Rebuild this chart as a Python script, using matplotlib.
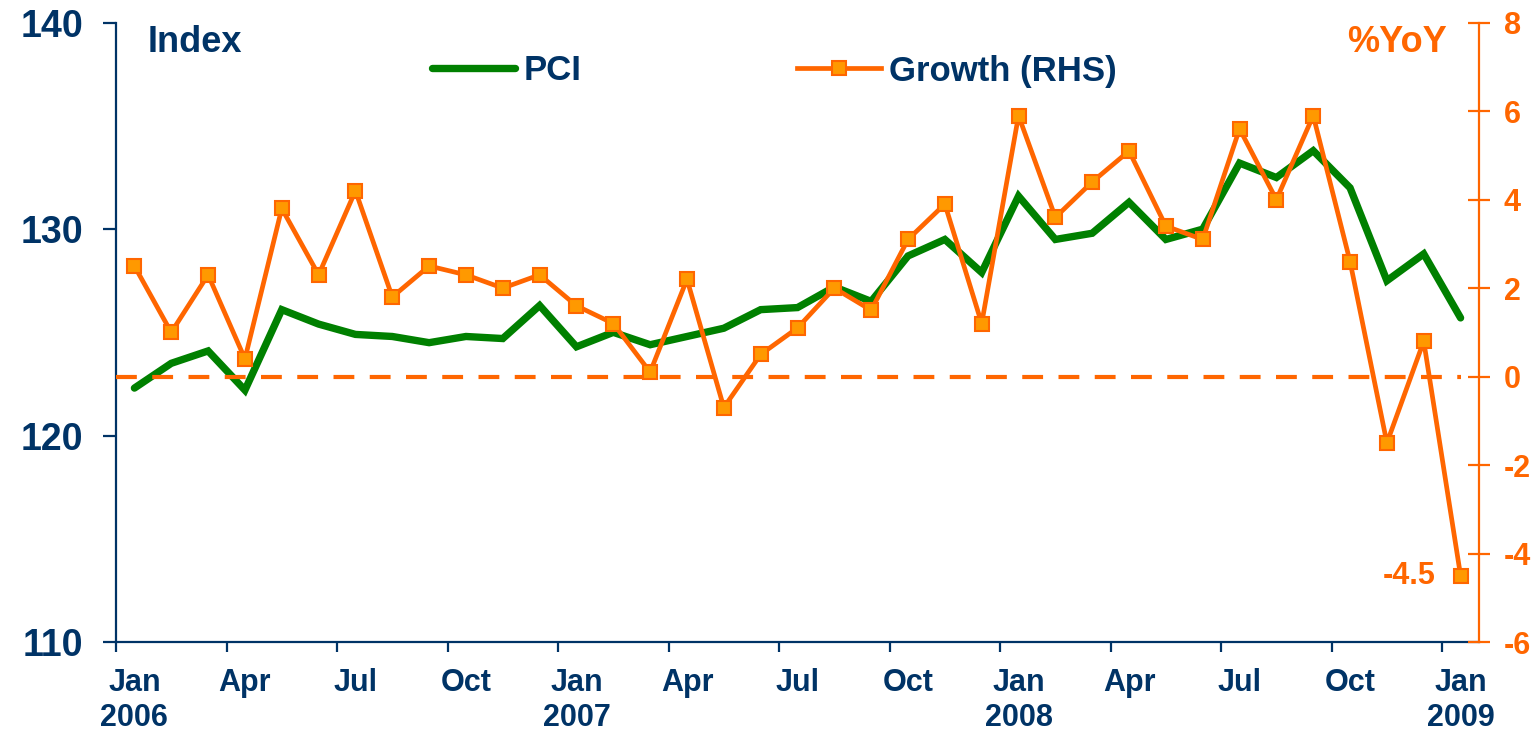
import numpy as np
import matplotlib
matplotlib.use("Agg")
import matplotlib.pyplot as plt

plt.rcParams['font.family'] = ['Liberation Sans', 'DejaVu Sans']
plt.rcParams['font.weight'] = 'bold'
plt.rcParams['axes.unicode_minus'] = False

# monthly data, Jan 2006 .. Jan 2009
pci = [122.3, 123.5, 124.1, 122.2, 126.1, 125.4, 124.9, 124.8, 124.5, 124.8, 124.7, 126.3,
       124.3, 125.0, 124.4, 124.8, 125.2, 126.1, 126.2, 127.2, 126.5, 128.7, 129.5, 127.9,
       131.6, 129.5, 129.8, 131.3, 129.5, 130.0, 133.2, 132.5, 133.8, 132.0, 127.5, 128.8,
       125.7]
growth = [2.5, 1.0, 2.3, 0.4, 3.8, 2.3, 4.2, 1.8, 2.5, 2.3, 2.0, 2.3,
          1.6, 1.2, 0.1, 2.2, -0.7, 0.5, 1.1, 2.0, 1.5, 3.1, 3.9, 1.2,
          5.9, 3.6, 4.4, 5.1, 3.4, 3.1, 5.6, 4.0, 5.9, 2.6, -1.5, 0.8,
          -4.5]
months = ['Jan', 'Feb', 'Mar', 'Apr', 'May', 'Jun', 'Jul', 'Aug', 'Sep', 'Oct', 'Nov', 'Dec']
years = [2006, 2007, 2008, 2009]
zero_line = 0

navy = '#003366'
green = '#008000'
orange = '#FF6600'
orange_fill = '#FF9900'

n = len(pci)
x = np.arange(n) + 0.5

labels = []
for i in range(n):
    m = months[i % 12]
    if i % 12 == 0:
        m = m + '\n' + str(years[i // 12])
    labels.append(m)

fig = plt.figure(figsize=(15.36, 7.32), dpi=100)
ax = fig.add_axes([116 / 1536, 1 - 642 / 732, (1479 - 116) / 1536, (642 - 22.7) / 732])
ax2 = ax.twinx()

pci_line, = ax.plot(x, pci, color=green, lw=5.3, solid_capstyle='round',
                    solid_joinstyle='miter', label='PCI')
ax2.axhline(zero_line, xmax=0.987, color=orange, lw=3, dashes=(5, 3.7))
gr_line, = ax2.plot(x, growth, color=orange, lw=3.4, marker='s', markersize=10,
                    markerfacecolor=orange_fill, markeredgecolor=orange, markeredgewidth=1.5,
                    label='Growth (RHS)')

ax.set_xlim(0, n)
ax.set_ylim(110, 140)
ax2.set_ylim(-6, 8)

ax.set_yticks([110, 120, 130, 140])
ax2.set_yticks([-6, -4, -2, 0, 2, 4, 6, 8])

ax.set_xticks(np.arange(0, n, 3))
ax.set_xticklabels([])
ax.set_xticks(x[::3], minor=True)
ax.set_xticklabels(labels[::3], minor=True)
ax.tick_params(axis='x', which='minor', length=0, pad=19, labelsize=22, labelcolor=navy)
ax.tick_params(axis='x', which='major', length=7, width=1.6, color=navy, direction='out')
ax.tick_params(axis='y', length=9.5, width=1.6, color=navy, direction='out',
               pad=14, labelsize=27, labelcolor=navy)
ax2.tick_params(axis='y', length=16, width=1.6, color=orange, direction='inout',
                pad=10, labelsize=22, labelcolor=orange)

for s in ['top', 'right']:
    ax.spines[s].set_visible(False)
for s in ['top', 'left', 'bottom']:
    ax2.spines[s].set_visible(False)
ax.spines['left'].set_color(navy)
ax.spines['bottom'].set_color(navy)
ax.spines['left'].set_linewidth(1.6)
ax.spines['bottom'].set_linewidth(1.6)
ax2.spines['right'].set_color(orange)
ax2.spines['right'].set_linewidth(1.6)

for t in ax.get_xticklabels(minor=True) + ax.get_yticklabels() + ax2.get_yticklabels():
    t.set_fontweight('bold')

fig.text(148 / 1536, 1 - 42 / 732, 'Index', color=navy, fontsize=26,
         fontweight='bold', va='center', ha='left')
fig.text(1447 / 1536, 1 - 42 / 732, '%YoY', color=orange, fontsize=26,
         fontweight='bold', va='center', ha='right')

ax2.annotate('%.1f' % growth[-1], xy=(x[-1], growth[-1]), xytext=(-18, 0),
             textcoords='offset points', ha='right', va='center',
             color=orange, fontsize=22, fontweight='bold')

leg = fig.legend(handles=[pci_line, gr_line], loc='center left',
                 bbox_to_anchor=(432 / 1536, 1 - 71 / 732), ncol=2, frameon=False,
                 fontsize=25, handlelength=2.4, handletextpad=0.25, columnspacing=6.2,
                 borderpad=0, borderaxespad=0)
for t in leg.get_texts():
    t.set_color(navy)
    t.set_fontweight('bold')

fig.savefig('out.png', dpi=100)
